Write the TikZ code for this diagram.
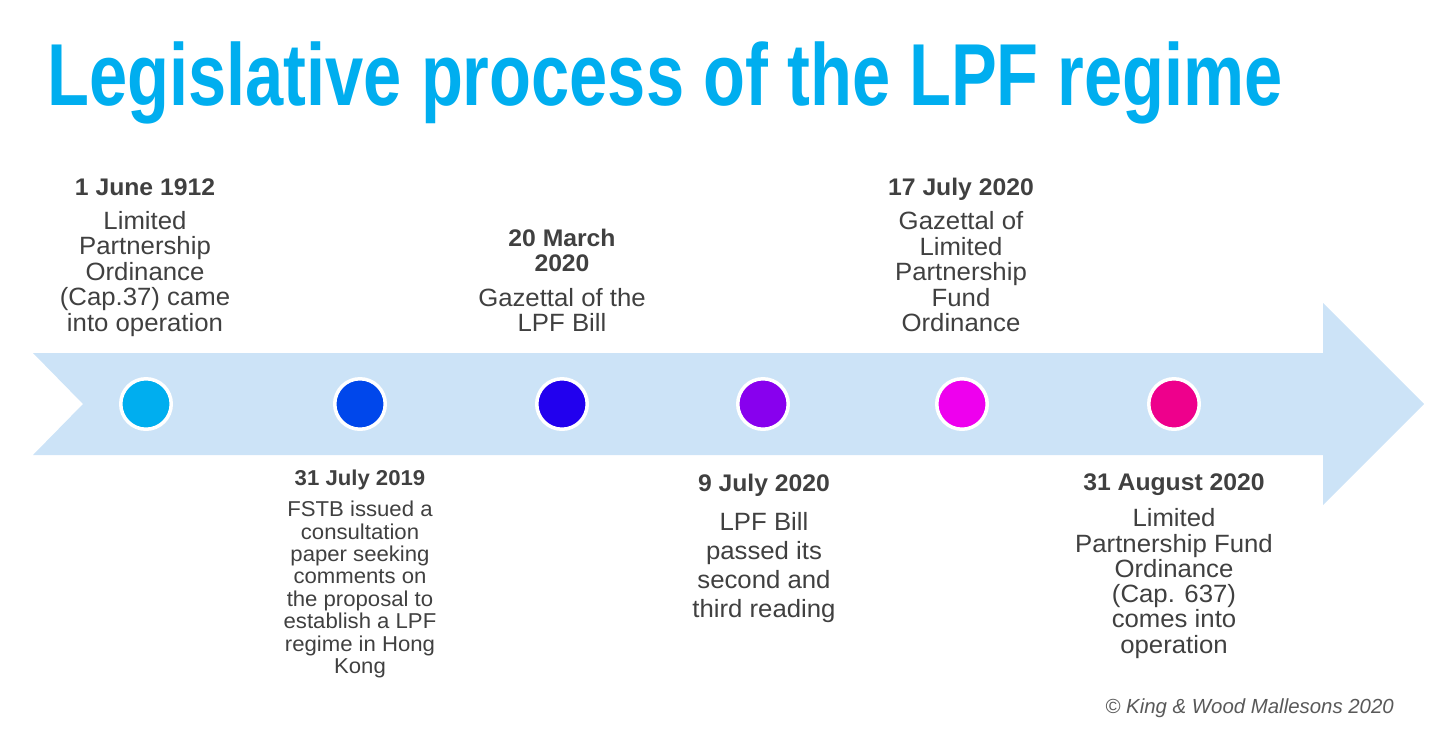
\documentclass[tikz,border=0pt]{standalone}
\usepackage{fontspec}
\setmainfont{Liberation Sans}
\newfontfamily\titlef[FakeStretch=0.78]{Liberation Sans}
\newfontfamily\bodyf[FakeStretch=1.03]{Liberation Sans}
\definecolor{titleblue}{HTML}{00AEEF}
\definecolor{arrowblue}{RGB}{204,227,247}
\definecolor{txt}{HTML}{404040}
\definecolor{copyc}{HTML}{595959}
\definecolor{d1}{HTML}{00AEEF}
\definecolor{d2}{HTML}{0047EB}
\definecolor{d3}{HTML}{2200EE}
\definecolor{d4}{HTML}{8800EE}
\definecolor{d5}{HTML}{EE00EE}
\definecolor{d6}{HTML}{EE008C}
\tikzset{
  dot/.style={circle, draw=white, line width=3.5pt, minimum size=50.5pt, inner sep=0pt},
  datelbl/.style={anchor=base, inner sep=0pt, text=txt, align=center,
    font=\bodyf\bfseries\fontsize{24}{25}\selectfont},
  desc/.style={anchor=base, inner sep=0pt, text=txt, align=center,
    font=\bodyf\fontsize{25}{25.6}\selectfont},
  descsmall/.style={anchor=base, inner sep=0pt, text=txt, align=center,
    font=\bodyf\fontsize{21.5}{22.4}\selectfont},
  datesmall/.style={anchor=base, inner sep=0pt, text=txt, align=center,
    font=\bodyf\bfseries\fontsize{21.5}{22.4}\selectfont},
}
\begin{document}
\begin{tikzpicture}[x=1pt,y=-1pt]
\useasboundingbox (0,0) rectangle (1438,732);
% title
\node[anchor=base west, inner sep=0pt, text=titleblue,
  font=\titlef\bfseries\fontsize{88}{90}\selectfont] (title) at (47,105)
  {Legislative process of the LPF regime};
% arrow band
\fill[arrowblue] (33,353) -- (1323,353) -- (1323,303) -- (1424,404)
  -- (1323,505) -- (1323,455) -- (33,455) -- (83,404) -- cycle;
% dots
\node[dot, fill=d1] (c1) at (146,404) {};
\node[dot, fill=d2] (c2) at (360,404) {};
\node[dot, fill=d3] (c3) at (562,404) {};
\node[dot, fill=d4] (c4) at (763,404) {};
\node[dot, fill=d5] (c5) at (962,404) {};
\node[dot, fill=d6] (c6) at (1174,404) {};
% block 1 (base = last line)
\node[datelbl] (t1) at (145,195) {1 June 1912};
\node[desc] (e1) at (145,331.4) {Limited\\Partnership\\Ordinance\\(Cap.37) came\\into operation};
% block 3
\node[datelbl] (t3) at (562,271.7) {20 March\\2020};
\node[desc] (e3) at (562,331.8) {Gazettal of the\\LPF Bill};
% block 5
\node[datelbl] (t5) at (961,195) {17 July 2020};
\node[desc] (e5) at (961,331.9) {Gazettal of\\Limited\\Partnership\\Fund\\Ordinance};
% block 2
\node[datesmall] (t2) at (360,485) {31 July 2019};
\node[descsmall] (e2) at (360,673.5) {FSTB issued a\\consultation\\paper seeking\\comments on\\the proposal to\\establish a LPF\\regime in Hong\\Kong};
% block 4
\node[datelbl] (t4) at (764,491) {9 July 2020};
\node[desc, font=\bodyf\fontsize{25}{29.3}\selectfont] (e4) at (764,617.9) {LPF Bill\\passed its\\second and\\third reading};
% block 6
\node[datelbl] (t6) at (1174,490) {31 August 2020};
\node[desc, font=\bodyf\fontsize{25}{25.3}\selectfont] (e6) at (1174,653.2) {Limited\\Partnership Fund\\Ordinance\\(Cap. 637)\\comes into\\operation};
% copyright
\node[anchor=base east, inner sep=0pt, text=copyc,
  font=\itshape\fontsize{20.4}{22}\selectfont] (copy) at (1394,713)
  {© King \& Wood Mallesons 2020};
\end{tikzpicture}
\end{document}
